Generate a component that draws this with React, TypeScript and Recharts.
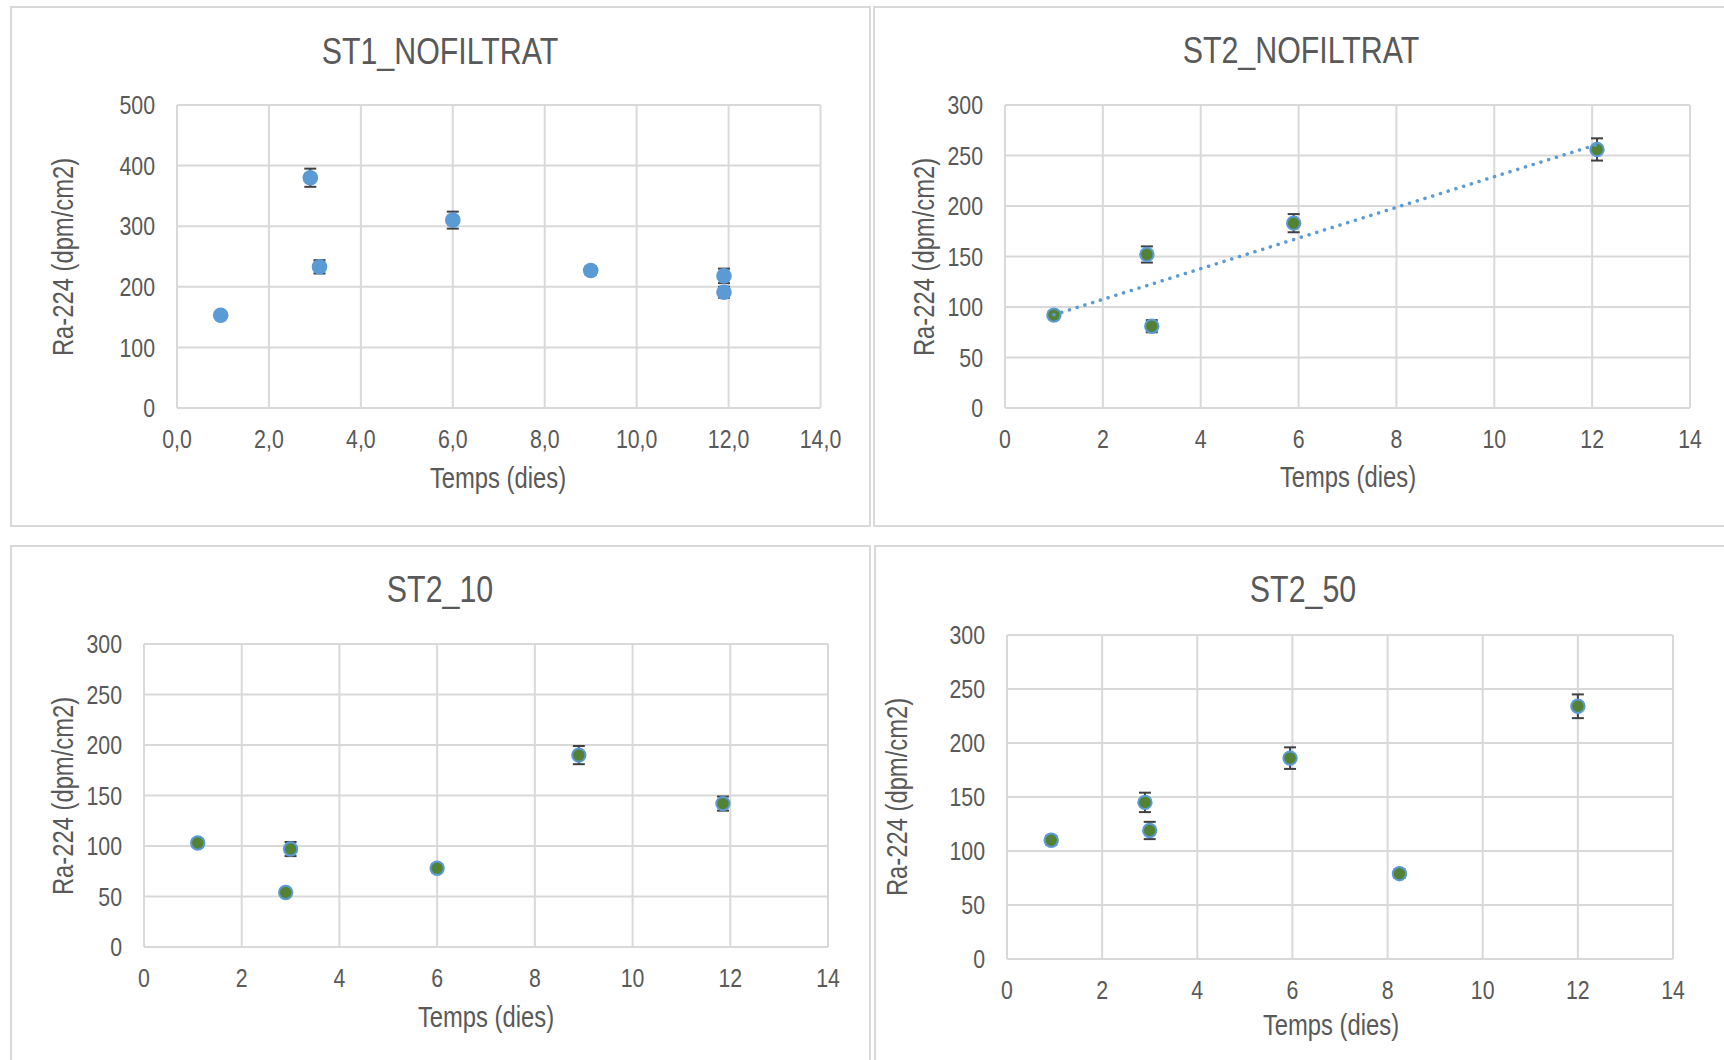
import React from "react";
import { CartesianGrid, ErrorBar, Scatter, ScatterChart, XAxis, YAxis } from "recharts";

// Liberation Sans squeezed horizontally stands in for the narrow Excel font
const FONT = "'Liberation Sans', Arial, sans-serif";
const SQUEEZE = 0.82;
const TEXT = "#595959";
const GRID = "#d9d9d9";
const BLUE = "#5b9bd5";
const GREEN = "#548235";
const BAR = "#404040";

const xTicks = [0, 2, 4, 6, 8, 10, 12, 14];
const yTicks500 = [0, 100, 200, 300, 400, 500];
const yTicks300 = [0, 50, 100, 150, 200, 250, 300];

// ST1_NOFILTRAT
const st1Dies = [0.95, 2.9, 3.1, 6.0, 9.0, 11.9, 11.9];
const st1Ra = [153, 380, 233, 310, 227, 218, 191];
const st1Err = [4, 15, 11, 14, 7, 12, 9];

// ST2_NOFILTRAT
const st2Dies = [1.0, 2.9, 3.0, 5.9, 12.1];
const st2Ra = [92, 152, 81, 183, 256];
const st2Err = [4, 8, 6, 9, 11];

// ST2_10
const st210Dies = [1.1, 3.0, 2.9, 6.0, 8.9, 11.85];
const st210Ra = [103, 97, 54, 78, 190, 142];
const st210Err = [4, 7, 3, 4, 9, 7];

// ST2_50
const st250Dies = [0.93, 2.9, 3.0, 5.95, 8.25, 12.0];
const st250Ra = [110, 145, 119, 186, 79, 234];
const st250Err = [4, 9, 8, 10, 4, 11];

type Row = { x: number; y: number; err: number };
const rows = (xs: number[], ys: number[], es: number[]): Row[] =>
  xs.map((x, i) => ({ x, y: ys[i], err: es[i] }));

// linear trendline (least squares), like Excel's
function trend(data: Row[]) {
  const n = data.length;
  const mx = data.reduce((s, d) => s + d.x, 0) / n;
  const my = data.reduce((s, d) => s + d.y, 0) / n;
  let sxy = 0;
  let sxx = 0;
  for (const d of data) {
    sxy += (d.x - mx) * (d.y - my);
    sxx += (d.x - mx) * (d.x - mx);
  }
  const b = sxy / sxx;
  const a = my - b * mx;
  const xs = data.map((d) => d.x);
  const x0 = Math.min(...xs);
  const x1 = Math.max(...xs);
  return [
    { x: x0, y: a + b * x0 },
    { x: x1, y: a + b * x1 },
  ];
}

const axisTick = (axis: "x" | "y", fmt: (v: number) => string) => (p: any) => (
  <text
    transform={`translate(${p.x},${p.y}) scale(${SQUEEZE},1)`}
    textAnchor={axis === "x" ? "middle" : "end"}
    dy={axis === "x" ? "0.71em" : "0.355em"}
    fill={TEXT}
    fontSize={26}
    fontFamily={FONT}
  >
    {fmt(p.payload.value)}
  </text>
);

function Txt({
  x,
  y,
  size,
  rotate,
  children,
}: {
  x: number;
  y: number;
  size: number;
  rotate?: boolean;
  children: React.ReactNode;
}) {
  return (
    <div
      style={{
        position: "absolute",
        left: x,
        top: y,
        transform: `translate(-50%, -50%)${rotate ? " rotate(-90deg)" : ""} scaleX(${SQUEEZE})`,
        fontFamily: FONT,
        fontSize: size,
        lineHeight: 1,
        color: TEXT,
        whiteSpace: "nowrap",
      }}
    >
      {children}
    </div>
  );
}

type Box = { left: number; top: number; width: number; height: number };
type Plot = { l: number; t: number; r: number; b: number };

function Panel({
  title,
  box,
  plot,
  data,
  yTicks,
  decimals,
  green,
  withTrend,
  titleAt,
  yLabelAt,
  xLabelAt,
}: {
  title: string;
  box: Box;
  plot: Plot;
  data: Row[];
  yTicks: number[];
  decimals: boolean;
  green: boolean;
  withTrend?: boolean;
  titleAt: [number, number];
  yLabelAt: [number, number];
  xLabelAt: [number, number];
}) {
  const YW = 100;
  const XH = 60;
  const width = plot.r - plot.l + YW + 40;
  const height = plot.b - plot.t + XH + 20;
  const fmtX = (v: number) => (decimals ? v.toFixed(1).replace(".", ",") : String(v));

  return (
    <>
      <div
        style={{
          position: "absolute",
          left: box.left,
          top: box.top,
          width: box.width,
          height: box.height,
          border: `2px solid ${GRID}`,
          boxSizing: "border-box",
        }}
      />
      <div style={{ position: "absolute", left: plot.l - YW, top: plot.t - 20 }}>
        <ScatterChart width={width} height={height} margin={{ top: 20, right: 40, bottom: 0, left: 0 }}>
          <CartesianGrid stroke={GRID} strokeWidth={2} />
          <XAxis
            type="number"
            dataKey="x"
            domain={[0, 14]}
            ticks={xTicks}
            height={XH}
            tickLine={false}
            axisLine={false}
            tickSize={0}
            tickMargin={22}
            tick={axisTick("x", fmtX)}
          />
          <YAxis
            type="number"
            dataKey="y"
            domain={[0, yTicks[yTicks.length - 1]]}
            ticks={yTicks}
            width={YW}
            tickLine={false}
            axisLine={false}
            tickSize={0}
            tickMargin={22}
            tick={axisTick("y", (v) => String(v))}
          />
          <Scatter
            data={data}
            isAnimationActive={false}
            shape={(p: any) =>
              green ? (
                <circle cx={p.cx} cy={p.cy} r={6.7} fill={GREEN} stroke={BLUE} strokeWidth={2} />
              ) : (
                <circle cx={p.cx} cy={p.cy} r={7.8} fill={BLUE} />
              )
            }
          >
            <ErrorBar dataKey="err" direction="y" width={6} stroke={BAR} strokeWidth={2} />
          </Scatter>
          {withTrend && (
            <Scatter
              data={trend(data)}
              isAnimationActive={false}
              line={{
                stroke: BLUE,
                strokeWidth: 3.5,
                strokeDasharray: "0.1 8",
                strokeLinecap: "round",
              }}
              shape={() => <g />}
            />
          )}
        </ScatterChart>
      </div>
      <Txt x={titleAt[0]} y={titleAt[1]} size={37}>
        {title}
      </Txt>
      <Txt x={yLabelAt[0]} y={yLabelAt[1]} size={29} rotate>
        Ra-224 (dpm/cm2)
      </Txt>
      <Txt x={xLabelAt[0]} y={xLabelAt[1]} size={29}>
        Temps (dies)
      </Txt>
    </>
  );
}

export default function App() {
  return (
    <div
      style={{
        position: "absolute",
        left: 0,
        top: 0,
        width: 1724,
        height: 1060,
        overflow: "hidden",
        background: "#fff",
      }}
    >
      <Panel
        title="ST1_NOFILTRAT"
        box={{ left: 10, top: 6, width: 861, height: 521 }}
        plot={{ l: 176.5, t: 105, r: 820, b: 408 }}
        data={rows(st1Dies, st1Ra, st1Err)}
        yTicks={yTicks500}
        decimals
        green={false}
        titleAt={[440, 50.5]}
        yLabelAt={[62.7, 256.5]}
        xLabelAt={[498, 478]}
      />
      <Panel
        title="ST2_NOFILTRAT"
        box={{ left: 873, top: 6, width: 860, height: 521 }}
        plot={{ l: 1005, t: 105, r: 1690, b: 408 }}
        data={rows(st2Dies, st2Ra, st2Err)}
        yTicks={yTicks300}
        decimals={false}
        green
        withTrend
        titleAt={[1300.7, 49.5]}
        yLabelAt={[923.6, 256.5]}
        xLabelAt={[1347.5, 477]}
      />
      <Panel
        title="ST2_10"
        box={{ left: 10, top: 545, width: 861, height: 530 }}
        plot={{ l: 144, t: 644, r: 828, b: 947 }}
        data={rows(st210Dies, st210Ra, st210Err)}
        yTicks={yTicks300}
        decimals={false}
        green
        titleAt={[440, 589]}
        yLabelAt={[62.7, 795.5]}
        xLabelAt={[486, 1017]}
      />
      <Panel
        title="ST2_50"
        box={{ left: 874, top: 545, width: 860, height: 530 }}
        plot={{ l: 1007, t: 635, r: 1673, b: 959 }}
        data={rows(st250Dies, st250Ra, st250Err)}
        yTicks={yTicks300}
        decimals={false}
        green
        titleAt={[1303, 589]}
        yLabelAt={[897, 797]}
        xLabelAt={[1331, 1025]}
      />
    </div>
  );
}
